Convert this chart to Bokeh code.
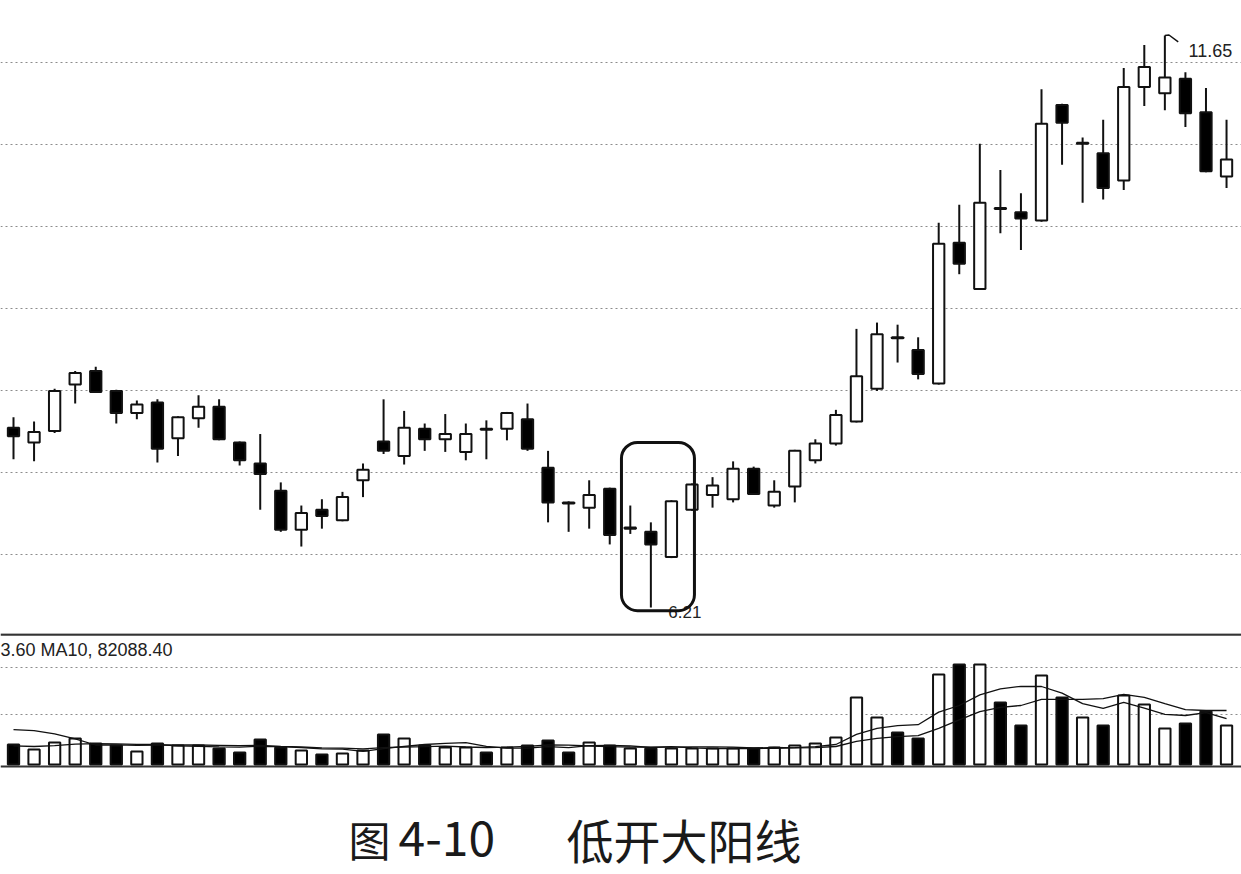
import numpy as np
import pandas as pd
from bokeh.plotting import figure
from bokeh.layouts import column
from bokeh.models import Range1d, FixedTicker, BoxAnnotation, Label, Span, ColumnDataSource
from bokeh.embed import file_html
from bokeh.resources import INLINE
from bokeh.core.properties import value

# ---------------- data ----------------
opens = [7.92, 7.78, 7.89, 8.33, 8.46, 8.27, 8.06, 8.16, 7.82, 8.01,
         8.12, 7.78, 7.58, 7.32, 6.95, 7.14, 7.04, 7.42, 7.79, 7.65,
         7.91, 7.81, 7.69, 7.91, 7.91, 8.00, 7.54, 7.21, 7.16, 7.34,
         6.96, 6.93, 6.69, 7.14, 7.28, 7.24, 7.53, 7.18, 7.36, 7.61,
         7.77, 7.98, 8.29, 8.78, 8.66, 8.34, 9.68, 9.24, 10.01, 9.97,
         9.89, 10.99, 10.62, 10.53, 10.27, 11.16, 11.10, 11.24, 10.92, 10.31]
highs = [8.02, 7.98, 8.29, 8.46, 8.50, 8.28, 8.18, 8.19, 8.03, 8.23,
         8.19, 7.79, 7.86, 7.40, 7.18, 7.24, 7.31, 7.58, 8.19, 8.08,
         7.96, 8.05, 7.96, 7.99, 8.07, 8.15, 7.70, 7.22, 7.42, 7.35,
         7.18, 7.02, 7.23, 7.39, 7.45, 7.60, 7.55, 7.42, 7.71, 7.81,
         8.09, 8.86, 8.92, 8.90, 8.78, 9.87, 10.04, 10.62, 10.37, 10.15,
         11.14, 11.00, 10.68, 10.85, 11.34, 11.56, 11.65, 11.30, 11.15, 10.85]
lows = [7.62, 7.60, 7.87, 8.15, 8.25, 7.96, 8.00, 7.59, 7.65, 7.92,
        7.80, 7.56, 7.14, 6.93, 6.79, 6.96, 7.03, 7.26, 7.67, 7.57,
        7.70, 7.69, 7.61, 7.62, 7.80, 7.70, 7.02, 6.93, 6.96, 6.81,
        6.91, 6.21, 6.68, 7.13, 7.16, 7.21, 7.28, 7.16, 7.21, 7.58,
        7.75, 7.97, 8.27, 8.54, 8.38, 8.33, 9.38, 9.23, 9.77, 9.61,
        9.88, 10.42, 10.06, 10.09, 10.18, 10.98, 10.94, 10.78, 10.35, 10.20]
closes = [7.84, 7.88, 8.27, 8.44, 8.26, 8.06, 8.14, 7.72, 8.02, 8.12,
          7.81, 7.61, 7.48, 6.95, 7.11, 7.08, 7.26, 7.52, 7.70, 7.92,
          7.81, 7.86, 7.86, 7.90, 8.06, 7.72, 7.21, 7.20, 7.28, 6.90,
          6.97, 6.81, 7.22, 7.38, 7.37, 7.53, 7.29, 7.31, 7.70, 7.77,
          8.04, 8.41, 8.81, 8.77, 8.43, 9.67, 9.48, 10.06, 10.00, 9.91,
          10.81, 10.82, 10.63, 10.20, 11.16, 11.35, 11.25, 10.91, 10.36, 10.47]
volumes = [30400, 22800, 33440, 39520, 31920, 28880, 19760, 31920, 28880, 28880,
           24320, 18240, 38000, 25840, 21280, 15200, 16720, 21280, 45600, 39520,
           28880, 25840, 25840, 18240, 25840, 28880, 36480, 18240, 33440, 28880,
           24320, 24320, 24320, 24320, 24320, 24320, 24320, 25840, 28880, 31920,
           41040, 101840, 71440, 48640, 39520, 136800, 152000, 152000, 94240, 59280,
           135280, 101840, 71440, 59280, 104880, 91200, 54720, 62320, 80560, 59280]
# volumes of the bars just before the visible window (they feed the moving averages)
prior_volumes = [39520, 80560, 117040, 124640, 27360, 27360, 27360, 27360, 28880]

price_grid = [6.71, 7.49, 8.27, 9.05, 9.83, 10.61, 11.39]
volume_grid = [76000, 148000]
ma_text = "3.60 MA10, 82088.40"
caption_fig = "图"
caption_num = "4-10"
caption_title = "低开大阳线"
highlight_first, highlight_last = 30, 32

# ---------------- derived ----------------
n = len(opens)
o = np.array(opens); c = np.array(closes); h = np.array(highs); l = np.array(lows)
falling = c < o
fill = np.where(falling, "black", "white")
all_vol = pd.Series(prior_volumes + volumes, dtype=float)
ma5 = all_vol.rolling(5).mean().to_numpy()[len(prior_volumes):]
ma10 = all_vol.rolling(10).mean().to_numpy()[len(prior_volumes):]

src = ColumnDataSource(dict(
    x=list(range(n)), open=o, close=c, high=h, low=l,
    top=np.maximum(o, c), bottom=np.minimum(o, c), fill=fill,
    vol=volumes, ma5=ma5, ma10=ma10))

# ---------------- layout constants ----------------
W = 1241
BAR_PX = 20.56
x_start = -13 / BAR_PX
x_end = x_start + W / BAR_PX
BODY_W = 0.55
INK = "#111111"
GRID = "#8c8c8c"

def base_fig(height, y_range, x_range):
    f = figure(width=W, height=height, x_range=x_range, y_range=y_range,
               output_backend="svg", toolbar_location=None, min_border=0,
               x_axis_location=None, y_axis_location=None)
    f.outline_line_color = None
    f.background_fill_color = "white"
    f.border_fill_color = "white"
    f.xgrid.visible = False
    return f

# ---------------- price panel ----------------
p = base_fig(633, Range1d(5.963, 11.983), Range1d(x_start, x_end))
p.ygrid.ticker = FixedTicker(ticks=price_grid)
p.ygrid.grid_line_color = GRID
p.ygrid.grid_line_dash = "2 3"
p.ygrid.grid_line_width = 1

p.segment(x0="x", y0="low", x1="x", y1="high", source=src, line_color=INK, line_width=2)
p.vbar(x="x", top="top", bottom="bottom", width=BODY_W, source=src,
       fill_color="fill", line_color=INK, line_width=2)

# highlight box around the low-open big white candle
hl = slice(highlight_first, highlight_last + 1)
box = BoxAnnotation(left=highlight_first - 0.43, right=highlight_last + 1.12,
                    bottom=float(l[hl].min()) - 0.03, top=float(h[hl].max()) + 0.55,
                    fill_color=None, fill_alpha=0, line_color=INK, line_alpha=1.0,
                    line_width=3, border_radius=16)
p.add_layout(box)

# extreme labels
hi_i = int(np.argmax(h)); lo_i = int(np.argmin(l))
p.line([hi_i, hi_i + 0.2, hi_i + 0.65], [h[hi_i], h[hi_i] + 0.005, h[hi_i] - 0.06],
       line_color=INK, line_width=1.5)
p.text(x=[hi_i + 1.15], y=[h[hi_i] - 0.14], text=[f"{h[hi_i]:.2f}"],
       text_font=value("Liberation Sans"), text_font_size="18px",
       text_color="#222222", text_baseline="middle", text_align="left")
p.line([lo_i + 0.1, lo_i + 0.8], [l[lo_i] - 0.03, l[lo_i] - 0.03], line_color=INK, line_width=1.5)
p.text(x=[lo_i + 0.85], y=[l[lo_i] - 0.04], text=[f"{l[lo_i]:.2f}"],
       text_font=value("Liberation Sans"), text_font_size="17px",
       text_color="#222222", text_baseline="middle", text_align="left")

# ---------------- volume panel ----------------
VPP = 1520  # volume per pixel
v = base_fig(135, Range1d(-4 * VPP, 131 * VPP), p.x_range)
v.ygrid.ticker = FixedTicker(ticks=volume_grid)
v.ygrid.grid_line_color = GRID
v.ygrid.grid_line_dash = "2 3"
v.vbar(x="x", top="vol", bottom=0, width=BODY_W, source=src,
       fill_color="fill", line_color=INK, line_width=2)
v.line("x", "ma5", source=src, line_color=INK, line_width=1.3)
v.line("x", "ma10", source=src, line_color=INK, line_width=1.3)
v.add_layout(Span(location=130 * VPP, dimension="width", line_color="#333333", line_width=2.5))
v.add_layout(Span(location=-2 * VPP, dimension="width", line_color="#333333", line_width=2))
v.add_layout(Label(x=0, y=119, x_units="screen", y_units="screen", text=ma_text,
                   text_font="Liberation Sans", text_font_size="18px",
                   text_color="#222222", text_baseline="middle"))

# ---------------- caption ----------------
CAP_H = 106
cap = base_fig(CAP_H, Range1d(0, CAP_H), Range1d(0, W))
cap.ygrid.visible = False
cap.text(x=[348], y=[36], text=[caption_fig],
         text_font=value("Noto Sans CJK SC"), text_font_size="42px",
         text_color="#1a1a1a", text_baseline="middle", text_align="left")
cap.text(x=[398], y=[36], text=[caption_num],
         text_font=value("Noto Sans CJK SC"), text_font_size="48px",
         text_color="#1a1a1a", text_baseline="middle", text_align="left")
cap.text(x=[566], y=[36], text=[caption_title],
         text_font=value("Noto Sans CJK SC"), text_font_size="47px",
         text_color="#1a1a1a", text_baseline="middle", text_align="left")

layout = column(p, v, cap, spacing=0)
open("out.html", "w").write(file_html(layout, INLINE))
